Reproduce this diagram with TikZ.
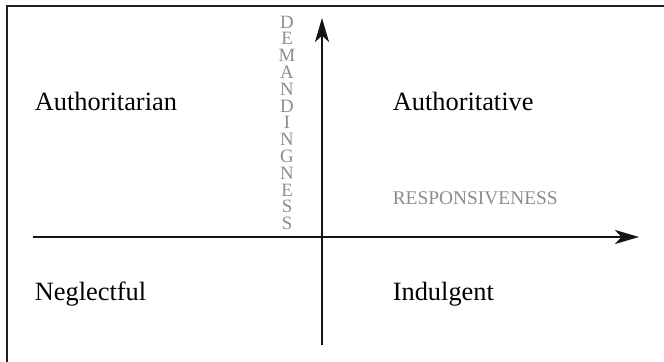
\documentclass[tikz,border=0pt]{standalone}
\usepackage{fontspec}
\setmainfont{Liberation Serif}
\usetikzlibrary{arrows.meta}

\begin{document}
\begin{tikzpicture}[x=0.5pt, y=-0.5pt, thick]

  % 画布：664 x 362（单位按像素）
  \useasboundingbox (0,0) rectangle (664,362);

  % 坐标轴的交点与端点
  \pgfmathsetmacro{\ox}{322}
  \pgfmathsetmacro{\oy}{237}
  \coordinate (xstart) at (33,\oy);
  \coordinate (xend)   at (639,\oy);
  \coordinate (ystart) at (\ox,345);
  \coordinate (yend)   at (\ox,18);

  % 外框：只有上边和左边
  \coordinate (frameTL) at (7,6);
  \coordinate (frameTR) at (664,6);
  \coordinate (frameBL) at (7,362);
  \draw[line width=1.1pt, black!88] (frameTR) -- (frameTL) -- (frameBL);

  % ---- 两条坐标轴 ----
  \draw[line width=1.1pt, black!92, -{Stealth[length=12pt, width=7pt, inset=3.2pt]}] (xstart) -- (xend);
  \draw[line width=1.1pt, black!92, -{Stealth[length=12pt, width=7pt, inset=3.2pt]}] (ystart) -- (yend);

  % ---- 四个象限的文字 ----
  \node[anchor=base west, inner sep=0pt, font=\fontsize{13.2}{16}\selectfont] (authoritarian) at (34,111) {Authoritarian};
  \node[anchor=base west, inner sep=0pt, font=\fontsize{13.2}{16}\selectfont] (authoritative) at (392,111) {Authoritative};
  \node[anchor=base west, inner sep=0pt, font=\fontsize{13.2}{16}\selectfont] (neglectful) at (34,301) {Neglectful};
  \node[anchor=base west, inner sep=0pt, font=\fontsize{13.2}{16}\selectfont] (indulgent) at (392,301) {Indulgent};

  % ---- 坐标轴名称（灰色）----
  \node[anchor=base west, inner sep=0pt, text=black!45, font=\fontsize{9.7}{11}\selectfont] (responsiveness) at (392,205) {RESPONSIVENESS};

  % 竖排字母
  \node[anchor=north, inner sep=0pt, text=black!45, align=center,
        font=\fontsize{9.4}{8.4}\selectfont] (demandingness) at (287,15)
    {D\\E\\M\\A\\N\\D\\I\\N\\G\\N\\E\\S\\S};

\end{tikzpicture}
\end{document}
